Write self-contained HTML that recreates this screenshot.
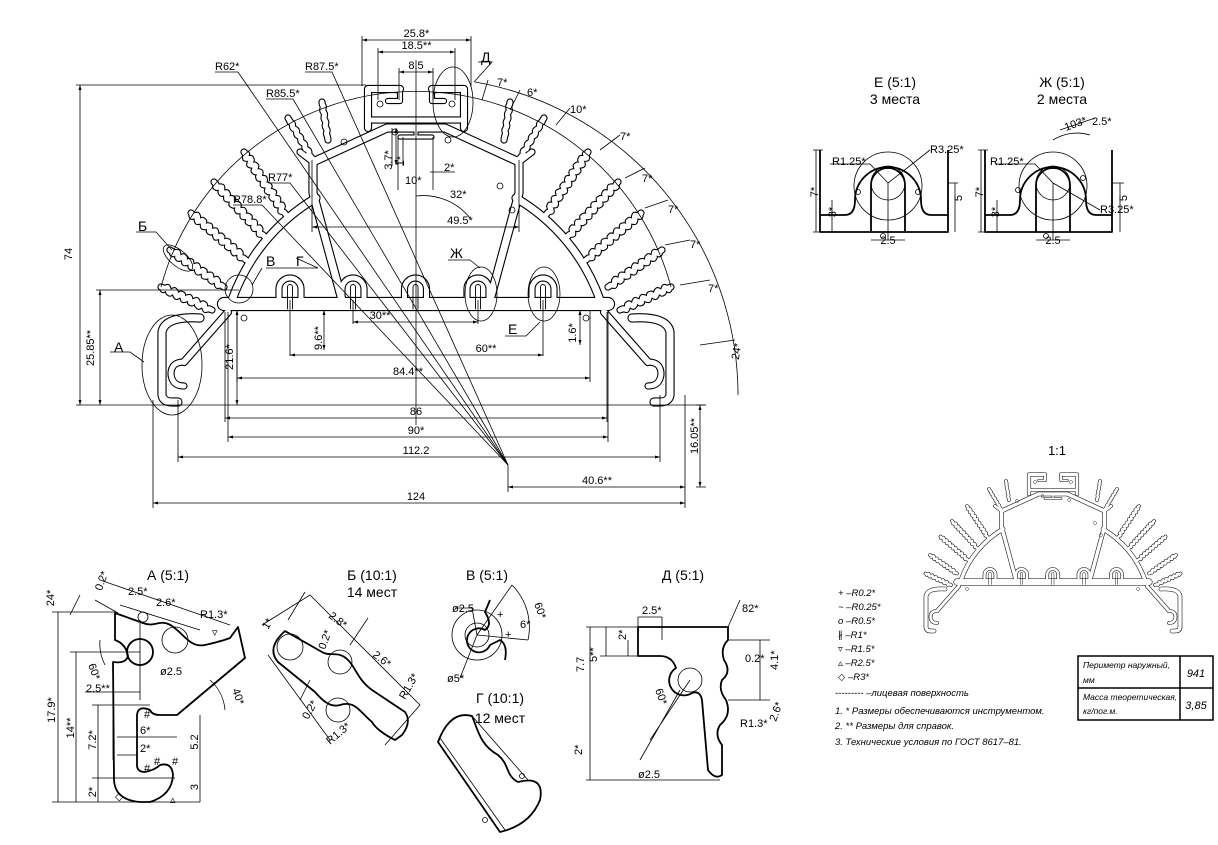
<!DOCTYPE html>
<html><head><meta charset="utf-8"><style>
html,body{margin:0;padding:0;background:#fff}
svg{display:block}
text{font-family:"Liberation Sans Narrow","Liberation Sans","DejaVu Sans",sans-serif;fill:#000}
.t{font-size:11px}
.h{font-size:14px}
.n{font-size:9.5px;font-style:italic}
.tb{font-size:8.5px;font-style:italic}
.th{fill:none;stroke:#000;stroke-width:0.8}
.tk{fill:none;stroke:#000;stroke-width:1.8;stroke-linejoin:round}
</style></head><body>
<svg id="s" width="1218" height="845" viewBox="0 0 1218 845" xmlns="http://www.w3.org/2000/svg">
<defs>
<marker id="a" viewBox="0 0 10 6" refX="10" refY="3" markerUnits="userSpaceOnUse" markerWidth="8" markerHeight="3" orient="auto-start-reverse"><path d="M0,0 L10,3 L0,6 z"/></marker>
<g id="prof"></g>
</defs>
<rect width="1218" height="845" fill="#fff"/>
<use href="#prof"/>
<use href="#prof" transform="translate(1053,473) scale(0.5) translate(-416,-86)"/>
<g id="thin" class="th"></g>
<g id="txt"></g>

<g class="th">
<path d="M161,287 A264 264 0 0 1 671,287"/>
<path d="M475,82 A318 318 0 0 1 738,395"/>
<path d="M416,60 L416,425"/>
<line x1="76" y1="85" x2="366" y2="85"/>
<line x1="76" y1="405" x2="705" y2="405"/>
<line x1="96" y1="290" x2="239" y2="290"/>
<path d="M215,72 H238 L508,465"/>
<path d="M305,72 H332 L508,465"/>
<path d="M266,99 H293 L508,465"/>
<path d="M268,183 H290 L508,465"/>
<path d="M233,205 H262 L508,465"/>
<path d="M478,62 H492 L474,82"/>
<ellipse cx="453" cy="102" rx="20" ry="35"/>
<path d="M136,232 H156 L172,250"/>
<ellipse cx="178" cy="258" rx="8" ry="18" transform="rotate(-50 178 258)"/>
<path d="M110,352 H130 L144,362"/>
<ellipse cx="172" cy="365" rx="30" ry="50"/>
<path d="M266,268 H318 L296,258"/>
<path d="M262,268 L252,285"/>
<circle cx="239" cy="289" r="14"/>
<path d="M448,260 H470 L480,268"/>
<ellipse cx="481" cy="294" rx="16" ry="27"/>
<path d="M505,336 H526 L540,322"/>
<ellipse cx="544" cy="294" rx="16" ry="27"/>
<path d="M488,80 L482,100 M520,90 L510,110 M570,108 L556,125 M620,135 L600,150 M645,168 L625,178 M668,200 L645,208 M690,240 L665,245 M710,280 L680,285 M735,340 L700,345"/>
<path d="M153,400 V508 M685,395 V508 M178,400 V462 M660,395 V462 M228,312 V442 M608,312 V442 M225,312 V422 M607,312 V422 M508,465 V492 M362,86 V36 M471,86 V36 M378,100 V48 M455,100 V48 M399,100 V68 M433,100 V68 M312,160 V232 M519,160 V232 M290,300 V356 M543,300 V356 M353,300 V324 M478,300 V324 M237,310 V382 M590,310 V382"/>
<path d="M398,137 V190 M433,137 V190 M392,128 V166 M403,137 V166 M430,172 H455"/>
<path d="M416,196 A60 60 0 0 1 470,218"/>
<path d="M696,405 H706 M696,487 H706"/>
</g>

<g class="t">
<text x="72" y="254" transform="rotate(-90 72 254)" text-anchor="middle">74</text>
<text x="94" y="348" transform="rotate(-90 94 348)" text-anchor="middle">25.85**</text>
<text x="233" y="357" transform="rotate(-90 233 357)" text-anchor="middle">21.6*</text>
<text x="322" y="338" transform="rotate(-90 322 338)" text-anchor="middle">9.6**</text>
<text x="576" y="333" transform="rotate(-90 576 333)" text-anchor="middle">1.6*</text>
<text x="698" y="436" transform="rotate(-90 698 436)" text-anchor="middle">16.05**</text>
<text x="392" y="160" transform="rotate(-90 392 160)" text-anchor="middle">3.7*</text>
<text x="404" y="161" transform="rotate(-90 404 161)" text-anchor="middle">1*</text>
<text x="740" y="352" transform="rotate(-80 740 352)" text-anchor="middle">24*</text>
<text x="215" y="70">R62*</text><text x="305" y="70">R87.5*</text><text x="266" y="97">R85.5*</text>
<text x="268" y="181">R77*</text><text x="233" y="203">R78.8*</text>
<text x="444" y="171">2*</text><text x="405" y="184">10*</text><text x="450" y="198">32*</text>
<text x="497" y="86">7*</text><text x="527" y="96">6*</text><text x="570" y="113">10*</text>
<text x="620" y="140">7*</text><text x="642" y="182">7*</text><text x="668" y="213">7*</text>
<text x="690" y="248">7*</text><text x="708" y="292">7*</text>
</g>
<g class="h">
<text x="481" y="62">Д</text><text x="138" y="231">Б</text><text x="114" y="352">А</text>
<text x="266" y="266">В</text><text x="296" y="266">Г</text><text x="450" y="258">Ж</text><text x="508" y="334">Е</text>
<text x="1057" y="455" text-anchor="middle" style="font-size:13px">1:1</text>
<text x="895" y="87" text-anchor="middle">Е (5:1)</text><text x="895" y="104" text-anchor="middle">3 места</text>
<text x="1062" y="87" text-anchor="middle">Ж (5:1)</text><text x="1062" y="104" text-anchor="middle">2 места</text>
<text x="168" y="580" text-anchor="middle">А (5:1)</text>
<text x="372" y="580" text-anchor="middle">Б (10:1)</text><text x="372" y="597" text-anchor="middle">14 мест</text>
<text x="487" y="580" text-anchor="middle">В (5:1)</text>
<text x="500" y="703" text-anchor="middle">Г (10:1)</text><text x="500" y="723" text-anchor="middle">12 мест</text>
<text x="683" y="580" text-anchor="middle">Д (5:1)</text>
</g>

<g>
<path class="tk" d="M820,215 H845 Q855,215 855,200 A33 33 0 0 1 921,200 Q921,215 931,215 H948"/>
<path class="tk" d="M871,232 V185 A17 17 0 0 1 905,185 V232"/>
<path class="tk" d="M820,150 V232 H948 V150"/>
<path class="th" d="M830,164 H870 L888,183 L930,150 M888,183 V240 M871,240 H905 M813,150 H823 M813,232 H823 M816,150 V232 M832,200 V232 M955,183 V232 M948,183 H958"/>
<circle class="th" cx="888" cy="183" r="17"/><circle class="th" cx="888" cy="186" r="34"/>
<circle class="th" cx="858" cy="192" r="2.5"/><circle class="th" cx="918" cy="192" r="2.5"/><circle class="th" cx="883" cy="236" r="2.5"/>
</g>
<g>
<path class="tk" d="M985,215 H1010 Q1020,215 1020,200 A33 33 0 0 1 1086,200 Q1086,215 1096,215 H1112"/>
<path class="tk" d="M1036,232 V185 A17 17 0 0 1 1070,185 V232"/>
<path class="tk" d="M985,150 V232 H1112 V150"/>
<path class="th" d="M995,164 H1035 L1053,183 L1100,210 M1053,183 V240 M1036,240 H1070 M978,150 H988 M978,232 H988 M981,150 V232 M997,200 V232 M1120,183 V232 M1112,183 H1124 M1060,130 L1095,118 M1053,140 A45 45 0 0 1 1090,135"/>
<circle class="th" cx="1053" cy="183" r="17"/><circle class="th" cx="1053" cy="186" r="34"/>
<circle class="th" cx="1018" cy="190" r="2.5"/><circle class="th" cx="1083" cy="178" r="2.5"/><circle class="th" cx="1046" cy="236" r="2.5"/>
</g>
<g class="t">
<text x="832" y="165">R1.25*</text><text x="930" y="153">R3.25*</text>
<text x="818" y="192" transform="rotate(-90 818 192)" text-anchor="middle">7*</text>
<text x="836" y="212" transform="rotate(-90 836 212)" text-anchor="middle">3*</text>
<text x="962" y="198" transform="rotate(-90 962 198)" text-anchor="middle">5</text>
<text x="888" y="244" text-anchor="middle">2.5</text>
<text x="1066" y="131" transform="rotate(-20 1066 131)">103*</text><text x="1092" y="125">2.5*</text>
<text x="990" y="165">R1.25*</text><text x="1100" y="213">R3.25*</text>
<text x="983" y="192" transform="rotate(-90 983 192)" text-anchor="middle">7*</text>
<text x="999" y="212" transform="rotate(-90 999 212)" text-anchor="middle">3*</text>
<text x="1127" y="198" transform="rotate(-90 1127 198)" text-anchor="middle">5</text>
<text x="1053" y="244" text-anchor="middle">2.5</text>
</g>

<g>
<path class="tk" d="M115,613 L143,623 C155,628 160,618 172,626 C184,634 190,648 205,645 C218,642 225,640 230,638 L238,627 L245,658 L177,715 L160,715 Q152,715 150,710 Q138,705 137,715 L137,765 Q137,772 145,772 Q155,770 160,765 Q172,762 173,775 Q172,795 150,802 L140,802 Q115,800 114,780 L113,662 Q126,664 128,656 Q126,644 115,640 Z"/>
<circle class="tk" cx="140" cy="652" r="13"/>
<g class="th">
<circle cx="175" cy="640" r="13"/><circle cx="143" cy="617" r="5"/>
<path d="M58,612 V802 M76,652 V802 M98,705 V802 M98,775 V802 M200,715 V802 M200,770 V802 M52,612 H115 M70,652 H140 M52,802 H200 M92,705 H150 M92,778 H175"/>
<path d="M85,692 H140 M117,737 H177 M117,755 H137 M140,620 V700 M113,720 V760"/>
<path d="M95,600 L118,613 M100,580 L230,625 M120,605 L200,630 M70,615 L80,595"/>
<path d="M100,640 A45 45 0 0 0 105,665 M210,680 A45 45 0 0 1 225,710"/>
</g>
<g class="t">
<text x="55" y="710" transform="rotate(-90 55 710)" text-anchor="middle">17.9*</text>
<text x="74" y="728" transform="rotate(-90 74 728)" text-anchor="middle">14**</text>
<text x="96" y="740" transform="rotate(-90 96 740)" text-anchor="middle">7.2*</text>
<text x="96" y="792" transform="rotate(-90 96 792)" text-anchor="middle">2*</text>
<text x="198" y="742" transform="rotate(-90 198 742)" text-anchor="middle">5.2</text>
<text x="198" y="787" transform="rotate(-90 198 787)" text-anchor="middle">3</text>
<text x="54" y="598" transform="rotate(-90 54 598)" text-anchor="middle">24*</text>
<text x="105" y="582" transform="rotate(-70 105 582)" text-anchor="middle">0.2*</text>
<text x="128" y="595">2.5*</text><text x="156" y="606">2.6*</text><text x="200" y="618">R1.3*</text>
<text x="160" y="675">ø2.5</text><text x="86" y="692">2.5**</text><text x="140" y="734">6*</text><text x="140" y="752">2*</text>
<text x="88" y="665" transform="rotate(70 88 665)">60*</text><text x="232" y="690" transform="rotate(70 232 690)">40*</text>
<text x="144" y="718">#</text><text x="144" y="772">#</text><text x="154" y="765">#</text><text x="172" y="765">#</text>
<text x="212" y="636">▿</text><text x="115" y="800">◇</text><text x="170" y="803">▵</text>
</g>
</g>

<g>
<path class="tk" d="M285,631 L322,652 C330,657 338,650 348,660 C356,668 358,680 372,690 L405,712 Q412,722 402,735 L395,740 C385,735 375,728 372,722 C360,712 355,700 340,705 C330,708 322,700 315,692 L278,662 Q266,648 285,631 Z"/>
<g class="th"><circle cx="340" cy="662" r="12"/><circle cx="338" cy="710" r="12"/><circle cx="290" cy="647" r="13"/>
<path d="M262,625 L310,595 L420,705 L385,745 M268,655 L330,740 M305,592 L288,620 M350,645 L368,618 M300,700 L310,680"/></g>
<g class="t">
<text x="328" y="617" transform="rotate(38 328 617)">2.8*</text>
<text x="325" y="650" transform="rotate(-70 325 650)">0.2*</text>
<text x="372" y="656" transform="rotate(38 372 656)">2.6*</text>
<text x="405" y="700" transform="rotate(-60 405 700)">R1.3*</text>
<text x="268" y="630" transform="rotate(-60 268 630)">1*</text>
<text x="308" y="720" transform="rotate(-60 308 720)">0.2*</text>
<text x="330" y="745" transform="rotate(-40 330 745)">R1.3*</text>
</g>
</g>

<g>
<path class="tk" d="M490,600 L485,612 Q493,625 485,630 A12 12 0 1 0 490,645 L500,640 Q508,645 505,660"/>
<g class="th"><circle cx="477" cy="635" r="25"/><circle cx="477" cy="635" r="12"/>
<path d="M477,635 L512,585 M477,635 L528,640 M512,585 A60 60 0 0 1 528,640 M455,608 H472 L477,635 M477,635 L460,678"/></g>
<g class="t"><text x="452" y="612">ø2.5</text><text x="447" y="682">ø5*</text><text x="520" y="628">6*</text>
<text x="534" y="604" transform="rotate(70 534 604)">60*</text><text x="497" y="618">+</text><text x="505" y="638">+</text></g>
</g>

<g>
<path class="tk" d="M438,742 Q450,710 472,716 C478,730 480,745 498,755 C510,765 505,775 518,782 Q545,775 540,800 Q530,825 500,832 Z"/>
<path class="th" d="M440,738 L505,830 M472,716 L528,780"/>
<circle class="th" cx="522" cy="776" r="2.5"/><circle class="th" cx="485" cy="820" r="2.5"/>
</g>

<g>
<path class="tk" d="M638,627 L728,627 L728,640 Q720,648 724,660 Q732,672 722,680 Q718,690 726,700 Q732,715 720,725 Q714,735 722,745 L722,775 Q715,780 708,770 L702,700 Q700,690 692,693 A13 13 0 0 1 676,668 Q672,656 660,656 L638,656 Z"/>
<g class="th"><circle cx="690" cy="680" r="12"/>
<path d="M590,627 V780 M606,627 V656 M586,627 H638 M600,656 H638 M586,780 H720 M638,617 V627 M662,617 V640 M638,617 H662 M628,640 V656 M740,600 L728,627 M760,640 V700 M728,640 H770 M728,700 H770 M690,680 L650,740 M640,760 L680,690"/></g>
<g class="t"><text x="642" y="614">2.5*</text><text x="597" y="662" transform="rotate(-90 597 662)">5**</text>
<text x="626" y="640" transform="rotate(-90 626 640)">2*</text><text x="584" y="672" transform="rotate(-90 584 672)">7.7</text>
<text x="582" y="755" transform="rotate(-90 582 755)">2*</text><text x="655" y="690" transform="rotate(70 655 690)">60*</text>
<text x="638" y="778">ø2.5</text><text x="742" y="612">82*</text><text x="745" y="662">0.2*</text>
<text x="778" y="670" transform="rotate(-90 778 670)">4.1*</text><text x="740" y="727">R1.3*</text>
<text x="776" y="722" transform="rotate(-70 776 722)">2.6*</text></g>
</g>

<g class="n">
<text x="838" y="596">+ –R0.2*</text><text x="838" y="610">~ –R0.25*</text><text x="838" y="624">o –R0.5*</text>
<text x="838" y="638">∦ –R1*</text><text x="838" y="652">▿ –R1.5*</text><text x="838" y="666">▵ –R2.5*</text><text x="838" y="680">◇ –R3*</text>
<text x="835" y="696">--------- –лицевая поверхность</text>
<text x="835" y="714">1. * Размеры обеспечиваются инструментом.</text>
<text x="835" y="729">2. ** Размеры для справок.</text>
<text x="835" y="745">3. Технические условия по ГОСТ 8617–81.</text>
</g>
<g class="tb">
<text x="1083" y="668">Периметр наружный,</text><text x="1083" y="683">мм</text>
<text x="1083" y="700">Масса теоретическая,</text><text x="1083" y="714">кг/пог.м.</text>
<text x="1196" y="677" text-anchor="middle" style="font-size:11px">941</text>
<text x="1196" y="709" text-anchor="middle" style="font-size:11px">3,85</text>
</g>
<path d="M1078,656 H1213 V720 H1078 Z M1180,656 V720 M1078,688 H1213" fill="none" stroke="#000" stroke-width="1.5"/>
</svg>
<script>
(function(){
var NS="http://www.w3.org/2000/svg";
function mir(d){
  d=d.replace(/A(\s*[\d.]+)\s+([\d.]+)\s+([\d.]+)\s+([01])\s+([01])/g,function(m,a,b,c,l,s){return "A"+a+" "+b+" "+c+" "+l+" "+(s=="1"?"0":"1");});
  return d.replace(/(-?[\d.]+),(-?[\d.]+)/g,function(m,x,y){return (832-parseFloat(x)).toFixed(1)+","+y;});
}
function wave(r,t,amp,lam){
  var dx=t[0]-r[0],dy=t[1]-r[1],L=Math.hypot(dx,dy),ux=dx/L,uy=dy/L,px=-uy,py=ux,s="",n=Math.round(L/1.5);
  for(var i=0;i<=n;i++){var u=i/n*L,o=(u>4&&u<L-3)?amp*Math.sin(2*Math.PI*u/lam):0;
    s+=(i?"L":"M")+(r[0]+ux*u+px*o).toFixed(1)+","+(r[1]+uy*u+py*o).toFixed(1)+" ";}
  return s;
}
var left=[
 ["M232,300 A193 193 0 0 1 316,198",7],
 ["M342,300 L313,193 L313,160",7],
 ["M228,312 L184,362",6],
 ["M200,318 Q165,316 162,332 L162,395 Q163,402 172,402 L178,402",7],
 ["M184,362 Q171,362 171,374 Q172,386 184,386",5],
 ["M368,128 L368,89 L400,89",6],
 ["M400,89 L400,101 L388,101",4],
 ["M313,162 L300,152",5]
];
var fins=[[[322,102],[328,140],0.6],[[288,118],[313,160],0.8],[[244,152],[286,215],2.2],[[214,182],[265,237],2.2],[[191,213],[246,260],2.2],[[170,250],[224,287],2.2],[[161,287],[212,310],2.2]];
fins.forEach(function(f){left.push([wave(f[1],f[0],f[2],8),5]);});
var center=[
 ["M224,304 L608,304",12],
 ["M313,162 L387,128 L445,128 L519,162",7],
 ["M372,120 L460,120",5],
 ["M400,137 L432,137 M416,128 L416,137",3]
];
[290,353,415.5,478,543].forEach(function(g){center.push(["M"+(g-11)+",300 L"+(g-11)+",289 A11 11 0 0 1 "+(g+11)+",289 L"+(g+11)+",300",5]);});
var all=[];
left.forEach(function(p){all.push(p);all.push([mir(p[0]),p[1]]);});
center.forEach(function(p){all.push(p);});
var prof=document.getElementById("prof");
function add(g,d,w,c){var e=document.createElementNS(NS,"path");e.setAttribute("d",d);e.setAttribute("fill","none");e.setAttribute("stroke",c);e.setAttribute("stroke-width",w);e.setAttribute("stroke-linecap","round");e.setAttribute("stroke-linejoin","round");g.appendChild(e);}
all.forEach(function(p){add(prof,p[0],p[1]+2.2,"#000");});
all.forEach(function(p){add(prof,p[0],p[1],"#fff");});
[290,353,415.5,478,543].forEach(function(g){add(prof,"M"+(g-2.5)+",309 L"+(g-2.5)+",287 A2.5 2.5 0 0 1 "+(g+2.5)+",287 L"+(g+2.5)+",309",0.9,"#000");});
[[380,104],[452,104],[344,142],[500,186],[512,210],[395,132],[448,140],[586,318],[244,318]].forEach(function(c){var e=document.createElementNS(NS,"circle");e.setAttribute("cx",c[0]);e.setAttribute("cy",c[1]);e.setAttribute("r",3);e.setAttribute("fill","none");e.setAttribute("stroke","#000");e.setAttribute("stroke-width",0.8);prof.appendChild(e);});
var th=document.getElementById("thin"),tx=document.getElementById("txt");
function line(x1,y1,x2,y2){var e=document.createElementNS(NS,"line");e.setAttribute("x1",x1);e.setAttribute("y1",y1);e.setAttribute("x2",x2);e.setAttribute("y2",y2);e.setAttribute("marker-start","url(#a)");e.setAttribute("marker-end","url(#a)");th.appendChild(e);}
function text(x,y,t){var e=document.createElementNS(NS,"text");e.setAttribute("x",x);e.setAttribute("y",y);e.setAttribute("class","t");e.setAttribute("text-anchor","middle");e.textContent=t;tx.appendChild(e);}
function dH(x1,x2,y,t,xt){line(x1,y,x2,y);text(xt||(x1+x2)/2,y-3,t);}
function dV(x,y1,y2){line(x,y1,x,y2);}
dV(80,85,405);dV(100,290,405);dV(237,310,405);dV(324,310,350);dV(580,310,345);dV(700,405,487);dV(396,128,165);
dH(362,471,40,"25.8*");dH(378,455,52,"18.5**");dH(399,433,72,"8.5");
dH(312,519,227,"49.5*",460);dH(353,478,322,"30**",380);dH(290,543,355,"60**",486);dH(237,590,378,"84.4**",408);
dH(225,607,418,"86",416);dH(228,608,437,"90*",416);dH(178,660,457,"112.2",416);dH(153,685,503,"124",416);dH(508,685,487,"40.6**",597);
})();
</script>
</body></html>
